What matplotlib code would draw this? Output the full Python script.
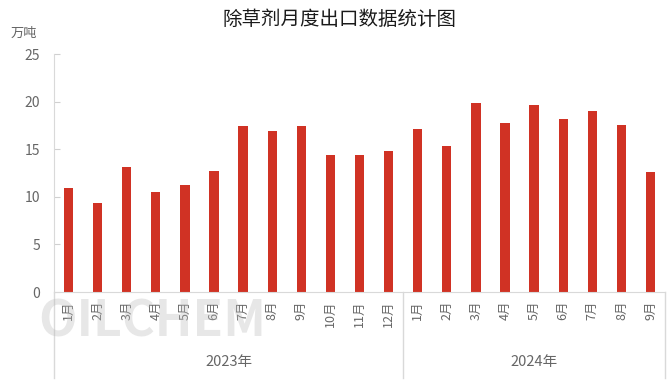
import matplotlib
matplotlib.use("Agg")
import matplotlib.pyplot as plt
import matplotlib.transforms as mtransforms

plt.rcParams['font.family'] = ['Noto Sans CJK SC', 'DejaVu Sans']

months = ["1月", "2月", "3月", "4月", "5月", "6月", "7月", "8月", "9月", "10月", "11月", "12月",
          "1月", "2月", "3月", "4月", "5月", "6月", "7月", "8月", "9月"]
values = [10.9, 9.3, 13.15, 10.55, 11.25, 12.75, 17.4, 16.9, 17.4, 14.4, 14.4, 14.8,
          17.1, 15.3, 19.85, 17.8, 19.6, 18.2, 19.05, 17.55, 12.6]
years = ["2023年", "2024年"]
year_counts = [12, 9]
title = "除草剂月度出口数据统计图"
unit = "万吨"
yticks = [0, 5, 10, 15, 20, 25]

fig = plt.figure(figsize=(6.72, 3.92), dpi=100)
ax = fig.add_axes([54/672, 1-292/392, (665-54)/672, (292-54)/392])

x = list(range(len(values)))
ax.bar(x, values, width=0.32, color="#D03224", zorder=2)

ax.set_xlim(-0.5, len(values)-0.5)
ax.set_ylim(0, 25)
ax.set_yticks(yticks)
ax.set_yticklabels([str(t) for t in yticks], color="#666666", fontsize=10)
ax.tick_params(axis='y', direction='in', length=4, color="#D0D0D0", pad=10)
ax.set_xticks(x)
ax.set_xticklabels(months, rotation=90, color="#666666", fontsize=9, va='top')
ax.tick_params(axis='x', direction='in', length=3, color="white", pad=6, width=1)

for s in ['top', 'right']:
    ax.spines[s].set_visible(False)
ax.spines['left'].set_color("#D9D9D9")
ax.spines['bottom'].set_color("#D9D9D9")

trans = mtransforms.blended_transform_factory(ax.transData, ax.transAxes)
low = -(378-292)/(292-54)
bounds = [-0.5]
acc = -0.5
for c in year_counts:
    acc += c
    bounds.append(acc)
for b in bounds:
    ax.plot([b, b], [0, low], transform=trans, color="#D9D9D9", lw=1, clip_on=False)

start = -0.5
for yr, c in zip(years, year_counts):
    center = start + c/2
    ax.text(center, -(362-292)/(292-54), yr, transform=trans, ha='center', va='center',
            color="#666666", fontsize=10.5)
    start += c

# watermark
fig.text(152/672, 1-322/392, "OILCHEM", ha='center', va='center', fontsize=36,
         color="#BBBBBB", alpha=0.35, fontweight='bold')

fig.text(340/672, 1-19/392, title, ha='center', va='center', fontsize=14, color="#1a1a1a")
fig.text(24/672, 1-33/392, unit, ha='center', va='center', fontsize=9.5, color="#666666")

fig.savefig("out.png", dpi=100)
